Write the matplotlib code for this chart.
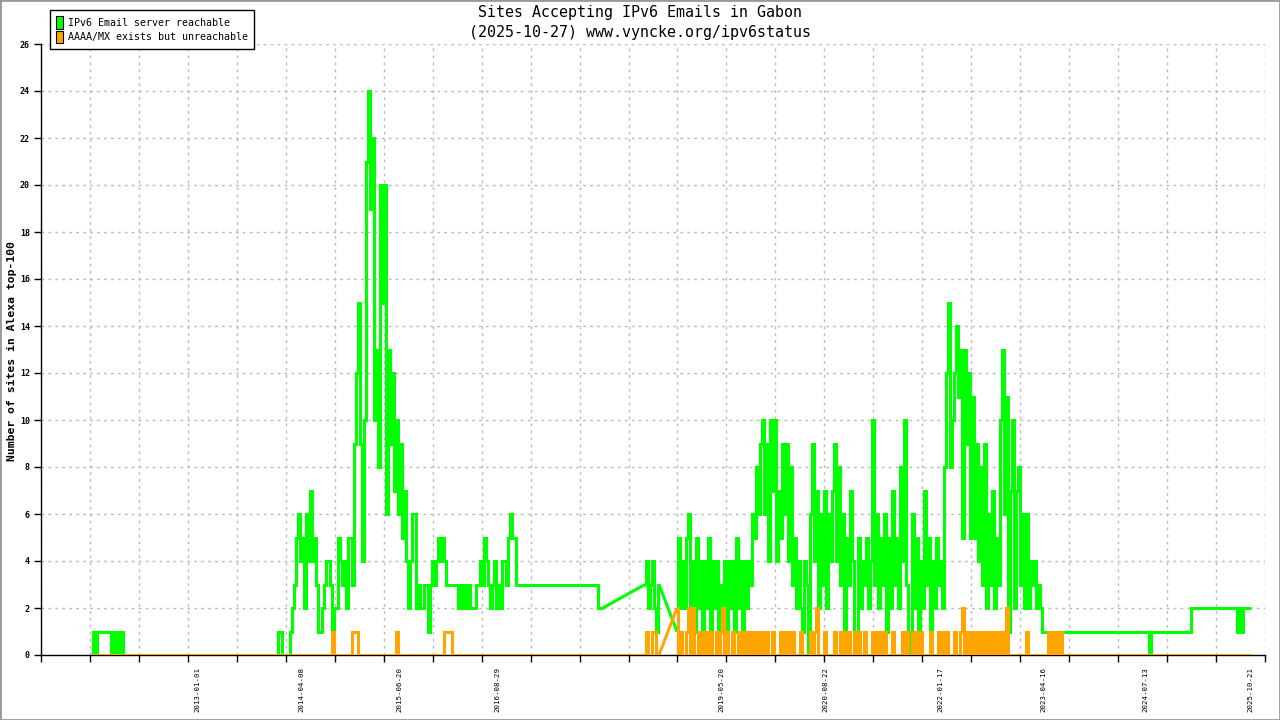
from __future__ import annotations

import matplotlib

matplotlib.use("Agg")

import matplotlib.pyplot as plt
import numpy as np
import pandas as pd
from matplotlib.dates import date2num
from matplotlib.patches import Patch, Rectangle


OUT_PATH = "out.png"
MONO = "DejaVu Sans Mono"
GREEN = "#00ff00"
ORANGE = "#ffa500"

TITLE = "Sites Accepting IPv6 Emails in Gabon"
SUBTITLE = "(2025-10-27) www.vyncke.org/ipv6status"
Y_LABEL = "Number of sites in Alexa top-100"
SERIES_NAMES = ["IPv6 Email server reachable", "AAAA/MX exists but unreachable"]

# measurements were taken on a regular grid (about every 9 days) in the busy periods
SAMPLE_STEP = pd.Timedelta(hours=213)

early_start = "2011-09-23"
early_green = [0, 1, 0, 1, 1, 1, 1, 1, 1, 1, 0, 1, 0, 1, 0, 1, 0, 0]
early_orange = [0, 0, 0, 0, 0, 0, 0, 0, 0, 0, 0, 0, 0, 0, 0, 0, 0, 0]

peak_start = "2013-12-22"
peak_green = [
    0, 1, 1, 0, 0, 0, 0, 1, 2, 3,
    5, 6, 4, 5, 2, 6, 4, 7, 4, 5,
    3, 1, 1, 2, 3, 4, 4, 3, 1, 2,
    2, 5, 4, 3, 4, 2, 5, 5, 3, 9,
    12, 15, 9, 4, 10, 21, 24, 19, 22, 10,
    13, 8, 20, 15, 20, 6, 13, 9, 12, 7,
    10, 6, 9, 5, 7, 4, 2, 4, 6, 6,
    2, 3, 2, 2, 3, 3, 1, 3, 4, 3,
    4, 5, 4, 5, 4, 3, 3, 3, 3, 3,
    3, 2, 3, 2, 3, 2, 3, 2, 2, 2,
    3, 3, 4, 3, 5, 4, 3, 2, 3, 4,
    2, 3, 2, 4, 4, 3, 5, 6, 5, 5,
    3,
]
peak_orange = [
    0, 0, 0, 0, 0, 0, 0, 0, 0, 0,
    0, 0, 0, 0, 0, 0, 0, 0, 0, 0,
    0, 0, 0, 0, 0, 0, 0, 0, 1, 0,
    0, 0, 0, 0, 0, 0, 0, 0, 1, 1,
    1, 0, 0, 0, 0, 0, 0, 0, 0, 0,
    0, 0, 0, 0, 0, 0, 0, 0, 0, 0,
    1, 0, 0, 0, 0, 0, 0, 0, 0, 0,
    0, 0, 0, 0, 0, 0, 0, 0, 0, 0,
    0, 0, 0, 0, 1, 1, 1, 1, 0, 0,
    0, 0, 0, 0, 0, 0, 0, 0, 0, 0,
    0, 0, 0, 0, 0, 0, 0, 0, 0, 0,
    0, 0, 0, 0, 0, 0, 0, 0, 0, 0,
    0,
]

quiet_dates = ["2017-11-12", "2017-11-25", "2017-12-08"]
quiet_green = [3, 2, 2]
quiet_orange = [0, 0, 0]

restart_start = "2018-06-13"
restart_green = [3, 4, 2, 3, 4, 2, 1, 3]
restart_orange = [0, 1, 0, 0, 1, 1, 0, 0]

busy_start = "2018-11-02"
busy_green = [
    1, 5, 2, 4, 2, 5, 6, 2, 4, 1,
    5, 2, 4, 1, 4, 2, 5, 1, 4, 2,
    4, 1, 3, 2, 4, 1, 4, 2, 4, 1,
    5, 2, 4, 1, 4, 2, 4, 3, 6, 5,
    8, 6, 9, 10, 6, 9, 4, 10, 7, 10,
    4, 7, 5, 9, 6, 9, 4, 8, 3, 5,
    2, 4, 2, 1, 4, 3, 0, 6, 9, 4,
    7, 2, 6, 3, 7, 2, 6, 4, 7, 9,
    4, 8, 3, 6, 1, 5, 3, 7, 4, 1,
    0, 5, 2, 4, 3, 5, 2, 4, 10, 3,
    6, 2, 5, 3, 6, 1, 5, 2, 7, 3,
    5, 2, 8, 4, 10, 3, 1, 0, 6, 2,
    5, 1, 4, 2, 7, 3, 5, 1, 4, 2,
    5, 3, 4, 2, 8, 12, 15, 8, 10, 12,
    14, 11, 13, 5, 13, 9, 12, 5, 11, 5,
    9, 4, 8, 3, 9, 2, 6, 3, 7, 2,
    5, 3, 10, 13, 6, 11, 1, 7, 10, 2,
    7, 8, 3, 6, 2, 6, 2, 4, 3, 4,
    2, 3, 2, 1, 1, 1, 1, 1, 0, 1,
    0, 1, 1, 1, 1,
]
busy_orange = [
    2, 0, 1, 0, 0, 1, 2, 0, 2, 0,
    0, 1, 0, 1, 0, 1, 0, 1, 0, 0,
    1, 0, 1, 2, 0, 1, 0, 0, 1, 0,
    0, 1, 0, 1, 0, 1, 0, 1, 0, 1,
    0, 1, 0, 1, 0, 1, 0, 0, 1, 0,
    0, 0, 1, 0, 1, 0, 1, 0, 1, 0,
    0, 0, 1, 0, 0, 0, 0, 1, 0, 1,
    2, 0, 0, 0, 1, 0, 0, 0, 0, 1,
    0, 0, 1, 0, 1, 0, 1, 0, 0, 1,
    0, 1, 0, 0, 1, 0, 0, 0, 1, 0,
    1, 0, 1, 0, 1, 0, 0, 0, 1, 0,
    0, 0, 0, 1, 0, 1, 0, 0, 1, 0,
    1, 0, 1, 0, 0, 0, 0, 1, 0, 0,
    0, 1, 0, 1, 0, 1, 0, 0, 0, 1,
    0, 0, 1, 2, 0, 1, 0, 1, 0, 1,
    0, 1, 0, 1, 0, 1, 0, 1, 0, 1,
    0, 1, 0, 1, 0, 2, 0, 0, 0, 0,
    0, 0, 0, 0, 0, 1, 0, 0, 0, 0,
    0, 0, 0, 0, 0, 0, 1, 0, 1, 0,
    1, 0, 1, 0, 0,
]

late_dates = [
    "2024-07-25", "2024-08-03", "2024-08-12", "2025-01-27", "2025-02-05",
    "2025-08-20", "2025-08-29", "2025-09-07", "2025-09-16", "2025-09-25", "2025-10-27",
]
late_green = [1, 0, 1, 1, 2, 2, 1, 2, 1, 2, 2]
late_orange = [0, 0, 0, 0, 0, 0, 0, 0, 0, 0, 0]

x_label_dates = [
    "2013-01-01", "2014-04-08", "2015-06-20", "2016-08-29", "2019-05-20",
    "2020-08-22", "2022-01-17", "2023-04-16", "2024-07-13", "2025-10-21",
]
x_range = ["2011-02-08", "2025-12-26"]
y_ticks = list(range(0, 27, 2))


def build_segments() -> list[pd.DataFrame]:
    """Each segment is a run of consecutive samples; gaps between them are bridged by straight lines."""
    segments = []
    regular = [
        (early_start, early_green, early_orange),
        (peak_start, peak_green, peak_orange),
        None,
        (restart_start, restart_green, restart_orange),
        (busy_start, busy_green, busy_orange),
    ]
    for item in regular:
        if item is None:
            segments.append(pd.DataFrame({"date": pd.to_datetime(quiet_dates),
                                          "green": quiet_green, "orange": quiet_orange}))
            continue
        start, green, orange = item
        dates = pd.date_range(start, periods=len(green), freq=SAMPLE_STEP)
        segments.append(pd.DataFrame({"date": dates, "green": green, "orange": orange}))
    segments.append(pd.DataFrame({"date": pd.to_datetime(late_dates),
                                  "green": late_green, "orange": late_orange}))
    return segments


def draw_series(ax, segments: list[pd.DataFrame], column: str, color: str, zorder: int) -> None:
    style = dict(color=color, lw=2.2, zorder=zorder, solid_joinstyle="miter", solid_capstyle="butt")
    for seg in segments:
        ax.plot(seg["date"], seg[column], drawstyle="steps-mid", **style)
    for prev, nxt in zip(segments[:-1], segments[1:]):
        ax.plot([prev["date"].iloc[-1], nxt["date"].iloc[0]],
                [prev[column].iloc[-1], nxt[column].iloc[0]], **style)


def main() -> None:
    segments = build_segments()

    fig = plt.figure(figsize=(12.8, 7.2), dpi=100)
    ax = fig.add_axes([41 / 1280, 65 / 720, 1224 / 1280, 611 / 720])

    draw_series(ax, segments, "green", GREEN, 3)
    draw_series(ax, segments, "orange", ORANGE, 4)

    xmin, xmax = pd.to_datetime(x_range)
    ax.set_xlim(xmin, xmax)
    ax.set_ylim(0, 26)

    # grid / tick marks: 25 equal divisions of the date axis
    grid_pos = np.linspace(date2num(xmin), date2num(xmax), 26)
    ax.set_xticks(grid_pos, minor=True)
    ax.set_xticks(date2num(pd.to_datetime(x_label_dates)))
    ax.set_xticklabels(x_label_dates, rotation=90, fontsize=5.3, family=MONO)
    ax.tick_params(axis="x", which="major", length=0, pad=9)
    ax.tick_params(axis="x", which="minor", length=5, width=1, direction="out", color="black")

    ax.set_yticks(y_ticks)
    ax.set_yticklabels([str(v) for v in y_ticks], fontsize=6, family=MONO, fontweight="bold")
    ax.tick_params(axis="y", length=5, width=1, direction="out", pad=3)

    grid_style = dict(color="#bbbbbb", linestyle=(0, (2, 3)), linewidth=1)
    ax.xaxis.grid(True, which="minor", **grid_style)
    ax.yaxis.grid(True, which="major", **grid_style)
    ax.set_axisbelow(True)

    for side in ["top", "right"]:
        ax.spines[side].set_visible(False)
    for side in ["left", "bottom"]:
        ax.spines[side].set_color("black")
        ax.spines[side].set_linewidth(1)

    fig.text(640 / 1280, 1 - 13 / 720, TITLE, ha="center", va="center", family=MONO, fontsize=10.8)
    fig.text(640 / 1280, 1 - 32 / 720, SUBTITLE, ha="center", va="center", family=MONO, fontsize=10.8)
    fig.text(12 / 1280, 1 - 351 / 720, Y_LABEL, rotation=90, ha="center", va="center",
             family=MONO, fontsize=8.2, fontweight="bold")

    handles = [
        Patch(facecolor=GREEN, edgecolor="black", linewidth=0.8),
        Patch(facecolor=ORANGE, edgecolor="black", linewidth=0.8),
    ]
    leg = fig.legend(
        handles, SERIES_NAMES,
        loc="upper left", bbox_to_anchor=(50 / 1280, 1 - 10 / 720),
        prop={"family": MONO, "size": 7.2},
        handlelength=0.67, handleheight=1.56, handletextpad=0.56,
        borderpad=0.6, labelspacing=0.2, borderaxespad=0,
        fancybox=False, framealpha=1, edgecolor="black",
    )
    leg.get_frame().set_linewidth(1)

    fig.patches.append(Rectangle((0, 0), 1, 1, transform=fig.transFigure, fill=False,
                                 edgecolor="#999999", linewidth=2))

    fig.savefig(OUT_PATH, dpi=100)
    plt.close(fig)


if __name__ == "__main__":
    main()
